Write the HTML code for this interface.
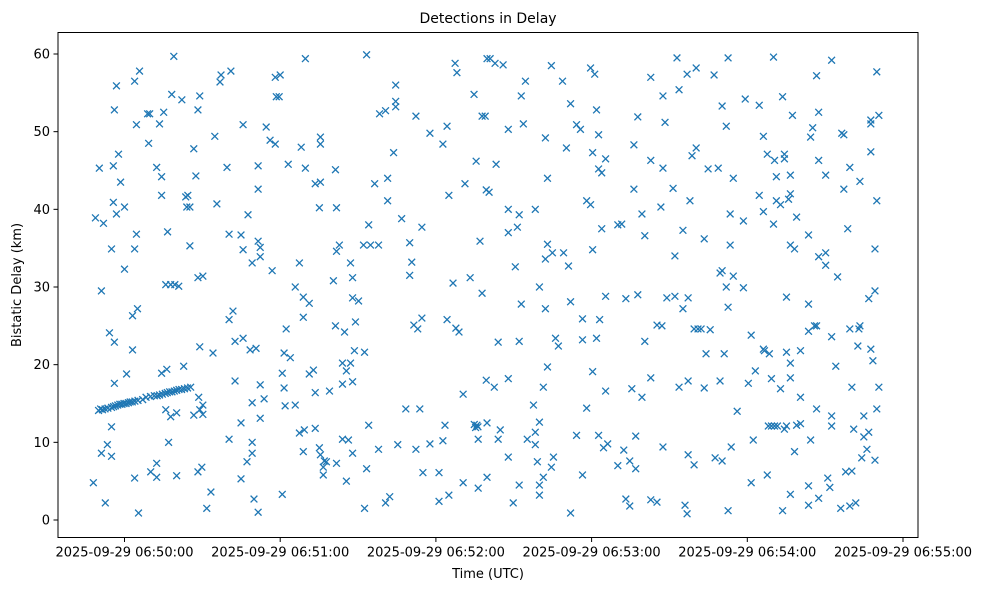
<!DOCTYPE html>
<html><head><meta charset="utf-8"><title>Detections in Delay</title>
<style>
html,body{margin:0;padding:0;background:#fff;}
svg text{font-family:"DejaVu Sans","Liberation Sans",sans-serif;fill:#000;}
</style></head>
<body>
<svg id="chart" width="988" height="590" viewBox="0 0 988 590" xmlns="http://www.w3.org/2000/svg">
<rect x="0" y="0" width="988" height="590" fill="#fff"/>
<text x="488" y="23" text-anchor="middle" font-size="14">Detections in Delay</text>
<g id="marks"></g>
<rect x="58" y="32.5" width="860" height="505" fill="none" stroke="#000" stroke-width="1"/>
<g id="xticks"></g>
<g id="yticks"></g>
<text x="488" y="578" text-anchor="middle" font-size="13">Time (UTC)</text>
<text x="0" y="0" transform="translate(21,285) rotate(-90)" text-anchor="middle" font-size="13">Bistatic Delay (km)</text>
</svg>
<script>
// seconds relative to 2025-09-29 06:50:00 UTC
const xTickValues = [0, 60, 120, 180, 240, 300];
const xTickLabels = ["2025-09-29 06:50:00","2025-09-29 06:51:00","2025-09-29 06:52:00","2025-09-29 06:53:00","2025-09-29 06:54:00","2025-09-29 06:55:00"];
const yTickValues = [0, 10, 20, 30, 40, 50, 60];
const yTickLabels = ["0","10","20","30","40","50","60"];

const detectionTimes = [
19.0,5.8,37.2,-3.1,3.9,36.8,18.2,22.1,29.0,-3.9,
8.9,9.7,15.1,28.3,4.6,13.5,34.8,9.3,26.7,-2.3,
-9.7,-4.3,12.4,14.3,27.5,-1.5,14.3,23.6,24.4,24.0,
25.2,35.6,-4.3,0,-3.1,-11.2,-8.1,4.6,16.6,-5.0,
3.9,25.2,0,-8.9,15.9,17.8,19.4,20.9,28.3,30.2,
5.0,3.1,-5.8,-3.9,3.1,29.0,34.1,0.8,-3.9,14.3,
16.3,22.8,28.6,30.2,29.0,30.2,26.7,15.9,17.8,20.1,
-5.0,17.0,-6.6,-8.9,-5.0,12.4,10.1,12.4,20.1,3.9,
28.3,29.8,-12.0,33.3,-7.4,31.7,5.4,
-10.0,-9.2,-8.5,-7.5,-6.4,-5.0,-4.2,-3.5,-2.6,-1.8,-1.0,-0.2,0.6,1.5,2.2,3.0,4.0,5.2,7.0,8.3,10.0,11.5,12.6,13.5,14.6,15.7,16.5,17.4,18.3,19.2,20.1,21.0,22.0,23.1,24.3,25.5,
69.7,41.0,58.1,60.0,58.5,59.6,45.7,54.6,56.1,58.1,
68.1,75.5,75.5,39.5,51.5,63.1,69.7,81.3,73.5,75.5,
51.5,47.6,75.1,81.7,40.3,44.9,45.7,51.5,52.3,52.3,
49.2,56.9,67.4,81.7,82.8,87.1,80.5,87.9,65.8,68.9,
71.2,87.9,68.9,41.8,40.3,62.3,81.3,84.8,89.0,42.6,
45.7,48.4,50.7,61.5,63.9,88.6,84.0,87.1,85.5,42.6,
52.3,60.8,61.5,71.2,72.8,84.0,87.9,73.5,79.0,49.2,
53.8,61.9,65.8,52.3,44.9,40.3,67.4,69.3,73.5,84.0,
86.3,49.2,49.2,47.2,68.9,75.1,75.5,77.0,77.8,76.6,
76.6,81.7,87.9,44.9,85.5,60.8,49.9,51.5,
93.3,127.4,128.1,139.7,104.5,104.5,104.5,98.3,100.6,112.3,
134.7,137.8,117.7,124.3,122.7,103.7,135.5,96.4,101.4,101.4,
125.0,131.2,139.4,94.1,106.8,114.6,92.1,94.8,97.9,109.9,
137.0,110.7,109.9,126.6,133.2,137.8,90.2,111.5,113.0,114.6,
124.3,127.7,128.9,92.5,139.4,130.5,108.4,113.8,94.1,123.5,
134.8,135.3,135.8,136.2,139.7,136.3,97.9,105.3,112.3,117.7,
122.7,93.3,115.0,121.2,130.5,125.0,121.2,136.3,139.7,100.6,
102.2,92.5,
140.9,142.8,145.9,164.5,179.6,181.2,154.5,168.8,152.9,171.9,
181.9,139.0,147.9,153.7,162.2,174.2,175.7,182.7,170.3,180.4,
185.4,182.7,183.9,143.2,163.0,140.5,147.9,152.1,158.3,178.1,
179.6,147.9,151.4,183.9,190.1,163.0,162.2,164.9,169.2,171.1,
150.6,180.4,159.9,152.9,162.2,171.9,185.4,176.5,183.1,144.0,
152.1,166.1,167.2,176.5,181.9,163.0,180.4,142.5,147.9,161.4,
185.4,157.6,178.1,144.8,144.0,159.9,158.3,155.2,158.3,174.2,
182.7,184.6,186.2,147.9,159.1,165.3,164.5,161.4,190.1,176.5,
152.1,159.9,159.9,149.8,171.9,
212.9,232.6,202.8,216.8,220.3,227.2,207.5,213.7,230.3,239.2,
197.8,208.3,231.9,196.3,220.3,218.7,202.8,207.5,224.9,228.8,
234.6,196.3,211.4,217.9,199.4,206.7,233.4,238.5,191.6,200.5,
215.2,223.4,233.4,212.1,229.5,230.3,234.6,231.9,238.5,193.2,
197.8,209.0,212.1,217.2,215.2,232.6,205.2,207.1,219.5,221.0,
222.2,225.7,200.5,224.1,231.1,202.8,195.5,199.4,213.7,217.2,
223.4,229.5,236.1,197.0,192.4,194.7,197.0,207.5,217.2,219.5,
227.6,230.3,233.8,193.2,194.7,202.8,205.2,216.0,216.8,232.6,
250.1,272.5,266.7,289.9,244.6,253.6,257.4,267.5,287.6,287.6,
290.7,265.2,264.4,276.4,277.2,246.2,247.7,250.5,254.3,254.3,
267.5,287.6,279.5,251.2,256.6,270.2,283.4,277.2,244.6,251.2,
252.8,255.9,256.6,289.9,246.2,259.0,250.1,278.7,263.6,256.6,
258.2,267.5,270.2,270.2,274.8,289.2,255.1,263.6,286.8,289.2,
241.5,263.6,265.9,266.7,272.5,279.5,283.0,283.4,246.2,246.6,
248.5,255.1,260.5,282.6,287.6,288.4,256.6,274.1,243.1,240.4,
249.3,252.8,256.6,260.5,280.3,290.7,266.7,272.5,272.5,284.9,
289.9,248.1,249.3,250.5,251.6,255.1,254.3,259.0,260.5,281.0,
284.9,286.8,242.3,264.4,258.2,286.1,284.1,289.2,247.7,241.5,
277.9,280.3,271.0,271.8,263.6,256.6,267.5,263.6,253.6,276.0,
279.5,281.8
];
const detectionDelays = [
59.7,57.8,57.3,55.9,56.5,56.4,54.8,54.1,54.6,52.8,
52.3,52.3,52.5,52.8,50.9,51.0,49.4,48.5,47.8,47.1,
45.3,45.6,45.4,44.2,44.3,43.5,41.8,41.6,41.8,40.3,
40.3,40.7,40.9,40.3,39.4,38.9,38.2,36.8,37.1,34.9,
34.9,35.3,32.3,29.5,30.3,30.3,30.3,30.1,31.2,31.4,
27.2,26.3,24.1,22.9,21.9,22.3,21.5,18.8,17.6,18.9,
19.4,19.8,15.8,14.8,14.2,13.6,13.5,14.2,13.3,13.8,
12.0,10.0,9.7,8.6,8.2,7.3,6.2,5.5,5.7,5.4,
6.2,6.8,4.8,3.6,2.2,1.5,0.9,
14.1,14.3,14.2,14.3,14.4,14.5,14.6,14.7,14.8,14.9,14.9,15.0,15.0,15.1,15.2,15.2,15.3,15.4,15.5,15.8,15.9,16.0,16.0,16.1,16.2,16.3,16.4,16.5,16.5,16.6,16.7,16.8,16.8,16.9,17.0,17.1,
59.4,57.8,57.0,57.3,54.5,54.5,50.9,50.6,48.9,48.4,
48.0,49.3,48.4,45.4,45.6,45.8,45.3,45.1,43.3,43.5,
42.6,39.3,40.2,40.2,36.8,36.7,34.8,35.9,35.1,33.9,
33.1,32.1,33.1,34.6,35.4,33.1,30.8,31.2,30.0,28.7,
27.9,28.6,26.1,26.9,25.8,24.6,25.0,24.2,25.5,23.0,
23.4,21.9,22.1,21.5,20.9,21.8,20.2,20.2,19.2,17.9,
17.4,18.9,17.0,18.8,19.3,17.5,17.8,16.4,16.6,15.1,
15.6,14.7,14.8,13.1,12.5,10.4,11.2,11.6,11.8,10.4,
10.3,10.0,8.6,7.5,8.8,9.3,8.4,7.6,7.5,6.8,
5.8,7.3,8.6,5.3,5.0,3.3,2.7,1.0,
59.9,58.8,57.6,59.4,56.0,53.9,53.2,52.3,52.7,52.0,
54.8,52.0,49.8,50.7,48.4,47.3,46.2,43.3,44.0,41.1,
41.8,43.3,42.5,38.0,38.8,37.7,35.4,35.4,35.4,35.7,
35.9,33.2,31.5,30.5,31.2,29.2,28.2,25.1,24.6,26.0,
25.8,24.7,24.2,21.6,18.0,16.2,14.3,14.3,12.2,12.2,
12.3,11.9,12.2,12.0,12.5,10.4,9.1,9.7,9.1,9.8,
10.2,6.6,6.1,6.1,4.8,3.2,2.4,4.1,5.5,2.2,
3.0,1.5,
59.4,58.8,58.6,58.5,58.2,57.4,56.5,56.5,54.6,53.6,
52.8,52.0,50.3,51.0,49.2,50.9,50.3,49.6,47.9,47.3,
46.5,45.2,44.7,45.8,44.0,42.2,40.0,39.3,40.0,41.1,
40.6,37.0,37.7,37.5,38.0,35.5,33.6,34.4,34.4,32.7,
32.6,34.8,30.0,27.8,27.2,28.1,28.8,25.9,25.8,22.9,
23.0,23.4,22.4,23.2,23.4,19.7,19.1,17.1,18.2,17.1,
16.6,14.8,14.4,11.6,10.4,12.6,11.3,10.4,9.7,10.9,
10.9,9.3,9.8,8.1,7.5,8.1,6.8,5.5,7.0,5.8,
4.5,4.5,3.2,2.2,0.9,
59.5,59.5,57.0,57.4,58.2,57.3,54.6,55.4,53.3,54.2,
51.9,51.2,50.7,48.3,47.9,46.9,46.3,45.3,45.2,45.3,
44.0,42.6,42.7,41.1,39.4,40.3,39.4,38.5,38.1,36.6,
37.3,36.2,35.4,34.0,31.8,32.1,31.4,30.0,29.9,28.5,
29.0,28.6,28.8,28.6,27.2,27.4,25.1,25.0,24.6,24.6,
24.6,24.5,23.0,21.4,21.4,18.3,16.9,15.8,17.1,17.9,
17.0,17.9,14.0,10.8,9.0,7.6,6.6,9.4,8.4,7.1,
8.0,7.6,9.4,2.7,1.8,2.6,2.3,1.9,0.8,1.2,
59.6,59.2,57.2,57.7,53.4,54.5,52.1,52.5,51.5,51.0,
52.1,50.5,49.3,49.8,49.6,49.4,47.1,46.3,47.1,46.5,
46.3,47.4,45.4,44.2,44.4,44.4,43.6,42.6,41.8,41.1,
40.6,41.3,42.0,41.1,39.7,39.0,38.1,37.5,36.7,35.4,
34.9,33.9,34.4,32.8,31.3,34.9,28.7,27.8,28.5,29.5,
23.8,24.3,25.0,25.0,23.6,24.6,24.6,25.0,22.0,21.8,
21.4,21.6,21.8,22.4,22.0,20.5,20.2,19.8,19.2,17.6,
18.2,16.9,18.3,15.8,17.1,17.1,14.3,13.4,12.1,13.4,
14.3,12.1,12.1,12.1,12.1,12.1,11.7,12.2,12.4,11.7,
10.7,11.3,10.3,10.3,8.8,9.1,8.0,7.7,5.8,4.8,
6.2,6.3,5.4,4.2,4.4,3.3,2.8,1.9,1.2,1.5,
1.8,2.2
];

const NS = "http://www.w3.org/2000/svg";
const plotLeft = 58, plotRight = 918, plotTop = 32.5, plotBottom = 537.5;
function xScale(t) { return 124.5 + t * (155.7 / 60); }
function yScale(km) { return 520 - km * (466 / 60); }

const xg = document.getElementById('xticks');
xTickValues.forEach(function (v, i) {
  const x = xScale(v);
  const ln = document.createElementNS(NS, 'line');
  ln.setAttribute('x1', x); ln.setAttribute('x2', x);
  ln.setAttribute('y1', plotBottom); ln.setAttribute('y2', plotBottom + 4.5);
  ln.setAttribute('stroke', '#000'); ln.setAttribute('stroke-width', '1');
  
  
  xg.appendChild(ln);
  const tx = document.createElementNS(NS, 'text');
  tx.setAttribute('x', x); tx.setAttribute('y', plotBottom + 19);
  tx.setAttribute('text-anchor', 'middle'); tx.setAttribute('font-size', '13');
  tx.textContent = xTickLabels[i];
  
  
  xg.appendChild(tx);
});

const yg = document.getElementById('yticks');
yTickValues.forEach(function (v, i) {
  const y = yScale(v);
  const ln = document.createElementNS(NS, 'line');
  ln.setAttribute('x1', plotLeft - 4.5); ln.setAttribute('x2', plotLeft);
  ln.setAttribute('y1', y); ln.setAttribute('y2', y);
  ln.setAttribute('stroke', '#000'); ln.setAttribute('stroke-width', '1');
  
  
  yg.appendChild(ln);
  const tx = document.createElementNS(NS, 'text');
  tx.setAttribute('x', plotLeft - 8); tx.setAttribute('y', y + 4.5);
  tx.setAttribute('text-anchor', 'end'); tx.setAttribute('font-size', '13');
  tx.textContent = yTickLabels[i];
  
  
  yg.appendChild(tx);
});

const mg = document.getElementById('marks');
const n = Math.min(detectionTimes.length, detectionDelays.length);
const r = 3.4;
for (let i = 0; i < n; i++) {
  const cx = xScale(detectionTimes[i]);
  const cy = yScale(detectionDelays[i]);
  const p = document.createElementNS(NS, 'path');
  p.setAttribute('d', 'M' + (cx - r) + ',' + (cy - r) + 'L' + (cx + r) + ',' + (cy + r) + 'M' + (cx - r) + ',' + (cy + r) + 'L' + (cx + r) + ',' + (cy - r));
  p.setAttribute('stroke', '#1f77b4');
  p.setAttribute('stroke-width', '1.3');
  p.setAttribute('fill', 'none');
  
  
  mg.appendChild(p);
}
</script>
</body></html>
